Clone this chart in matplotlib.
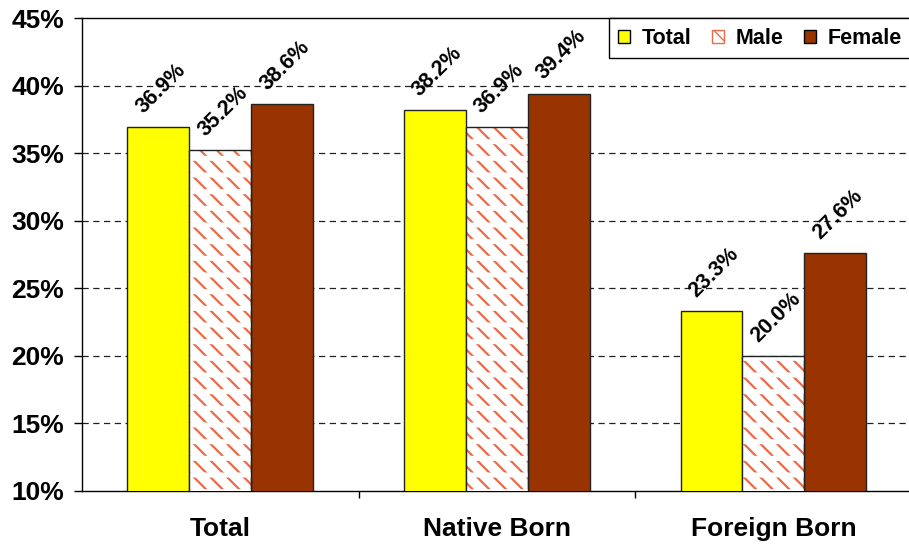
import matplotlib
matplotlib.use("Agg")
import matplotlib.pyplot as plt
import numpy as np
from matplotlib.patches import Patch

plt.rcParams['font.family'] = ['Liberation Sans', 'DejaVu Sans']

categories = ["Total", "Native Born", "Foreign Born"]
series_names = ["Total", "Male", "Female"]
total_vals = [36.9, 38.2, 23.3]
male_vals = [35.2, 36.9, 20.0]
female_vals = [38.6, 39.4, 27.6]
yticks = [10, 15, 20, 25, 30, 35, 40, 45]

HATCH_RED = '#EC6A48'

fig = plt.figure(figsize=(9.09, 5.48), dpi=100)
ax = fig.add_axes([82/909, 1-491/548, 1-82/909 + 0.003, (491-18)/548])

x = np.arange(len(categories))
w = 0.224
offsets = [-w, 0, w]

for v in yticks[1:-1]:
    ax.axhline(v, color='#202020', lw=0.9, ls=(0, (5, 3.6)), zorder=1)

ax.bar(x + offsets[0], total_vals, w, color='#FFFF00', edgecolor='#222222', lw=1.0, zorder=3)

with plt.rc_context({'hatch.linewidth': 1.6}):
    mh = ax.bar(x + offsets[1], male_vals, w, color='white', edgecolor=HATCH_RED, lw=0,
                hatch='\\\\', zorder=3)
with plt.rc_context({'hatch.linewidth': 3.6}):
    mw = ax.bar(x + offsets[1], male_vals, w, fill=False, edgecolor='white', lw=0,
                hatch='-', zorder=3.5)
for p in mh:
    if hasattr(p, 'set_hatch_linewidth'):
        p.set_hatch_linewidth(1.6)
for p in mw:
    if hasattr(p, 'set_hatch_linewidth'):
        p.set_hatch_linewidth(3.6)
ax.bar(x + offsets[1], male_vals, w, fill=False, edgecolor='#222222', lw=1.0, zorder=4)

ax.bar(x + offsets[2], female_vals, w, color='#993300', edgecolor='#222222', lw=1.0, zorder=3)

for vals, off in zip([total_vals, male_vals, female_vals], offsets):
    for xi, v in zip(x, vals):
        ax.annotate(f"{v:.1f}%", (xi + off, v), xytext=(2, 7), textcoords='offset points',
                    ha='center', va='bottom', rotation=45, fontsize=15.5, fontweight='bold', zorder=5)

ax.set_xlim(-0.5, 2.5)
ax.set_ylim(10, 45)
ax.set_yticks(yticks)
ax.set_yticklabels([f"{t}%" for t in yticks], fontsize=19, fontweight='bold')
ax.set_xticks(x)
ax.set_xticklabels(categories, fontsize=19, fontweight='bold')
ax.set_xticks([0.5, 1.5], minor=True)
ax.tick_params(axis='y', direction='out', length=6, width=1, pad=7)
ax.tick_params(axis='x', which='major', length=0, pad=19)
ax.tick_params(axis='x', which='minor', direction='out', length=5, width=1)
ax.spines['right'].set_visible(False)
for s in ['left', 'bottom', 'top']:
    ax.spines[s].set_linewidth(1.0)

handles = [Patch(facecolor='#FFFF00', edgecolor='black'),
           Patch(facecolor='white', edgecolor=HATCH_RED, hatch='\\\\'),
           Patch(facecolor='#993300', edgecolor='black')]
leg = ax.legend(handles, series_names, ncol=3, loc='upper right', bbox_to_anchor=(1.0, 1.0),
                borderaxespad=0, frameon=True, fancybox=False, edgecolor='black', framealpha=1,
                prop={'weight': 'bold', 'size': 15.5}, handlelength=0.55, handleheight=0.55,
                handletextpad=0.55, columnspacing=0.95, borderpad=0.45)
leg.get_frame().set_linewidth(1.0)
leg.set_zorder(6)

fig.savefig("out.png", dpi=100)
